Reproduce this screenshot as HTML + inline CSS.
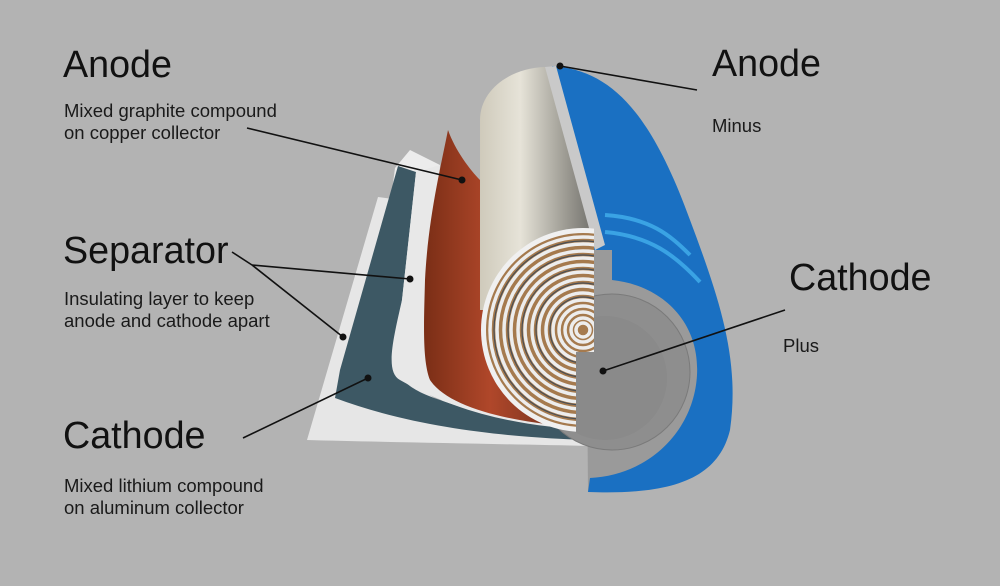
<!DOCTYPE html>
<html><head><meta charset="utf-8"><style>
html,body{margin:0;padding:0;background:#b3b3b3;}
svg{display:block}
text{font-family:"Liberation Sans",sans-serif;fill:#111}
.h{font-size:37.7px}
.s{font-size:18.5px;fill:#1a1a1a}
</style></head><body>
<svg width="1000" height="586" viewBox="0 0 1000 586" xmlns="http://www.w3.org/2000/svg">
<defs>
<linearGradient id="roll" x1="0" x2="1" y1="0" y2="0">
<stop offset="0" stop-color="#cfcabb"/><stop offset="0.35" stop-color="#e6e3d8"/><stop offset="0.75" stop-color="#9c9a92"/><stop offset="1" stop-color="#6f6e6a"/></linearGradient>
<linearGradient id="cu" x1="0" x2="1" y1="0" y2="0">
<stop offset="0" stop-color="#7a2e16"/><stop offset="0.4" stop-color="#b0472a"/><stop offset="1" stop-color="#5a2a1a"/></linearGradient>
<clipPath id="leftHalf"><path d="M0,0 H594 V352 H576 V586 H0 Z"/></clipPath>
</defs>
<path d="M307,440 L378,197 L400,200 L392,290 C380,380 420,420 590,432 L590,446 C500,444 380,442 307,440 Z" fill="#e6e6e6"/>
<path d="M395,168 L410,150 L440,165 L430,300 C420,390 470,420 590,428 L590,436 C470,430 360,420 395,168Z" fill="#ececec"/>
<path d="M398,166 L416,172 L402,300 C396,360 380,380 440,400 C490,418 540,426 590,430 L590,440 C520,438 420,430 335,398 L340,370 Z" fill="#3d5864"/>
<path d="M416,172 L440,165 L430,300 C424,370 460,410 590,426 L590,430 C520,426 460,414 400,380 C385,372 393,340 402,300 Z" fill="#e8e8e8"/>
<path d="M448,130 C455,150 470,170 480,180 L482,300 C490,380 530,412 590,424 L590,428 C520,424 450,410 430,380 C422,360 424,320 425,280 C428,220 440,170 448,130Z" fill="url(#cu)"/>
<path d="M480,310 L480,120 C480,90 510,68 545,67 L560,67 L595,250 L595,310 Z" fill="url(#roll)"/>
<path d="M552,66 C610,70 650,110 690,220 C720,300 740,360 730,430 C718,480 670,495 588,492 L588,250 L600,245 Z" fill="#1a70c2"/>
<path d="M605,215 C650,218 670,235 690,255" stroke="#3aa3e4" stroke-width="4" fill="none"/>
<path d="M605,232 C650,236 675,255 700,282" stroke="#3aa3e4" stroke-width="4" fill="none"/>
<path d="M545,67 L556,66 L605,245 L595,250 Z" fill="#c9c9c9"/>
<path d="M600,250 L612,250 L612,280 C660,285 700,320 697,375 C694,430 650,475 590,478 L588,492 L586,250 Z" fill="#9a9a9a"/>
<circle cx="612" cy="372" r="78" fill="#8e8e8e" stroke="#7a7a7a"/>
<circle cx="605" cy="378" r="62" fill="#8a8a8a"/>
<g clip-path="url(#leftHalf)" fill="none">
<circle cx="583" cy="330" r="102" fill="#f0f0f0"/>
<circle cx="583" cy="330" r="97" fill="#a57a4e"/>
<g stroke="#ededed" stroke-width="3.5">
<circle cx="583" cy="330" r="93"/><circle cx="583" cy="330" r="86"/><circle cx="583" cy="330" r="79"/><circle cx="583" cy="330" r="72"/><circle cx="583" cy="330" r="65"/><circle cx="583" cy="330" r="58"/><circle cx="583" cy="330" r="51"/><circle cx="583" cy="330" r="44"/><circle cx="583" cy="330" r="37"/><circle cx="583" cy="330" r="30"/><circle cx="583" cy="330" r="24"/><circle cx="583" cy="330" r="18"/><circle cx="583" cy="330" r="12"/><circle cx="583" cy="330" r="7"/>
</g>
<g stroke="#4a4f55" stroke-width="1.2">
<circle cx="583" cy="330" r="89"/><circle cx="583" cy="330" r="75"/><circle cx="583" cy="330" r="61"/><circle cx="583" cy="330" r="47"/><circle cx="583" cy="330" r="33"/>
</g>
</g>
<g stroke="#111" stroke-width="1.6" fill="none">
<line x1="247" y1="128" x2="462" y2="180"/>
<line x1="232" y1="252" x2="252" y2="265"/>
<line x1="252" y1="265" x2="410" y2="279"/>
<line x1="252" y1="265" x2="343" y2="337"/>
<line x1="243" y1="438" x2="368" y2="378"/>
<line x1="560" y1="66" x2="697" y2="90"/>
<line x1="603" y1="371" x2="785" y2="310"/>
</g>
<g fill="#111">
<circle cx="462" cy="180" r="3.5"/><circle cx="410" cy="279" r="3.5"/><circle cx="343" cy="337" r="3.5"/>
<circle cx="368" cy="378" r="3.5"/><circle cx="560" cy="66" r="3.5"/><circle cx="603" cy="371" r="3.5"/>
</g>
<text class="h" x="63" y="77">Anode</text>
<text class="s" x="64" y="117">Mixed graphite compound</text>
<text class="s" x="64" y="139">on copper collector</text>
<text class="h" x="63" y="263">Separator</text>
<text class="s" x="64" y="305">Insulating layer to keep</text>
<text class="s" x="64" y="327">anode and cathode apart</text>
<text class="h" x="63" y="448">Cathode</text>
<text class="s" x="64" y="492">Mixed lithium compound</text>
<text class="s" x="64" y="514">on aluminum collector</text>
<text class="h" x="712" y="76">Anode</text>
<text class="s" x="712" y="132">Minus</text>
<text class="h" x="789" y="290">Cathode</text>
<text class="s" x="783" y="352">Plus</text>
</svg>
</body></html>
